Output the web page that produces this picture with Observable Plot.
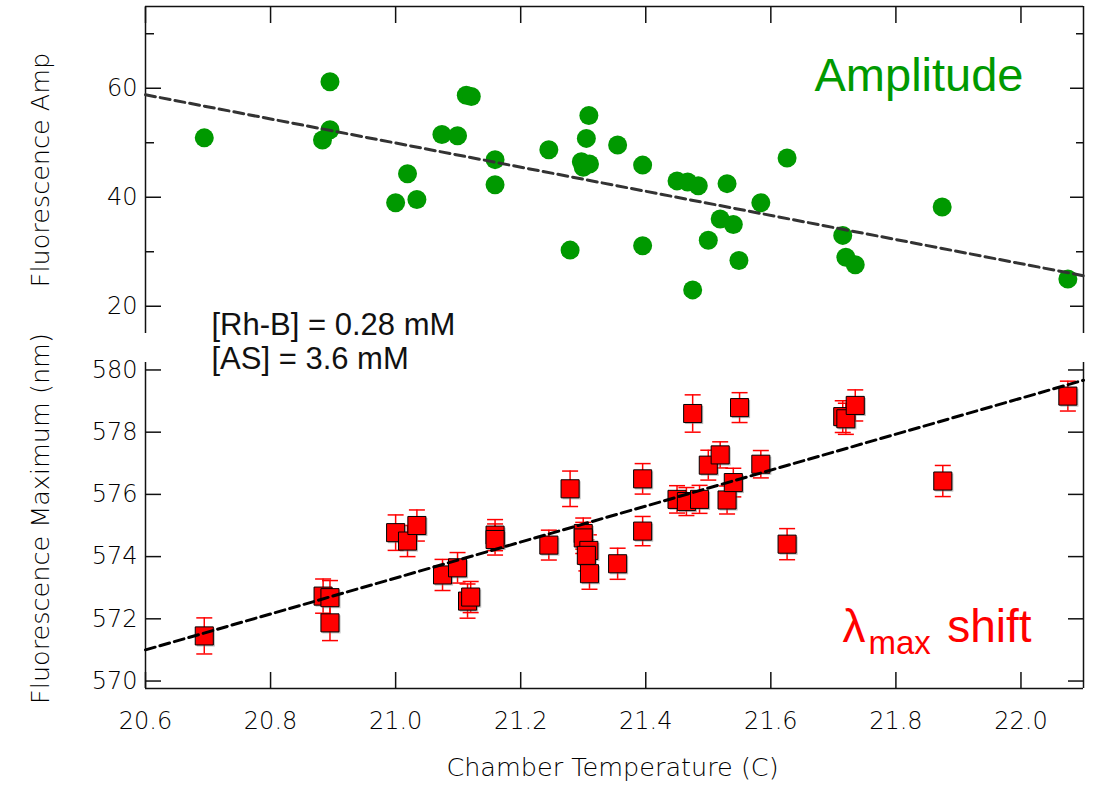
<!DOCTYPE html>
<html><head><meta charset="utf-8">
<script src="https://cdn.jsdelivr.net/npm/d3@7"></script>
<script src="https://cdn.jsdelivr.net/npm/@observablehq/plot@0.6"></script>
<style>body{margin:0;background:#fff}#chart svg{display:block}</style>
</head><body><div id="chart"></div>
<script>
// ---- data ----
const ampTemp = [20.694, 20.883, 20.895, 20.895, 21.000, 21.019, 21.034, 21.074, 21.099, 21.113, 21.121, 21.159, 21.159, 21.245, 21.279, 21.297, 21.300, 21.310, 21.305, 21.309, 21.355, 21.395, 21.395, 21.450, 21.467, 21.484, 21.475, 21.500, 21.519, 21.530, 21.540, 21.549, 21.584, 21.626, 21.715, 21.720, 21.735, 21.874, 22.075];
const amplitude = [50.9, 50.5, 52.4, 61.2, 39.0, 44.3, 39.6, 51.5, 51.3, 58.7, 58.5, 46.9, 42.3, 48.7, 30.3, 46.5, 45.5, 46.1, 50.8, 55.0, 49.6, 45.9, 31.1, 43.0, 42.8, 42.1, 23.0, 32.1, 36.0, 42.5, 35.0, 28.4, 39.0, 47.2, 33.0, 29.0, 27.6, 38.2, 25.0];

const lamTemp = [20.694, 20.884, 20.895, 20.895, 21.000, 21.019, 21.034, 21.075, 21.099, 21.115, 21.120, 21.159, 21.159, 21.245, 21.279, 21.300, 21.300, 21.309, 21.305, 21.310, 21.355, 21.395, 21.395, 21.450, 21.465, 21.475, 21.486, 21.500, 21.519, 21.530, 21.540, 21.550, 21.584, 21.626, 21.715, 21.720, 21.735, 21.875, 22.075];
const lambdaMax = [571.45, 572.73, 572.68, 571.87, 574.77, 574.50, 575.00, 573.41, 573.64, 572.57, 572.70, 574.69, 574.55, 574.37, 576.18, 574.74, 574.60, 574.20, 574.04, 573.45, 573.77, 576.50, 574.82, 575.84, 575.77, 578.60, 575.84, 576.94, 577.27, 575.82, 576.38, 578.79, 576.97, 574.40, 578.50, 578.43, 578.86, 576.43, 579.16];
const lambdaErr = [0.58, 0.55, 0.55, 0.57, 0.57, 0.50, 0.50, 0.50, 0.49, 0.55, 0.50, 0.50, 0.50, 0.48, 0.57, 0.50, 0.50, 0.50, 0.50, 0.50, 0.50, 0.49, 0.47, 0.44, 0.45, 0.60, 0.45, 0.48, 0.42, 0.45, 0.46, 0.48, 0.44, 0.50, 0.51, 0.50, 0.50, 0.50, 0.48];

const fitTemp = [20.6, 22.1];
const ampFit = [58.8, 25.6];
const lamFit = [571.0, 579.67];

const xTicks = [20.6, 20.8, 21.0, 21.2, 21.4, 21.6, 21.8, 22.0];
const ampMajorTicks = [20, 40, 60];
const ampMinorTicks = [30, 50, 70];
const lamTicks = [570, 572, 574, 576, 578, 580];

const xDomain = [20.6, 22.1];
const ampDomain = [15, 75];
const lamDomain = [569.76, 580.24];

// ---- tables ----
const ampData = ampTemp.map((t, i) => ({t, v: amplitude[i]}));
const lamData = lamTemp.map((t, i) => ({t, v: lambdaMax[i], e: lambdaErr[i]}));
const ampFitData = fitTemp.map((t, i) => ({t, v: ampFit[i]}));
const lamFitData = fitTemp.map((t, i) => ({t, v: lamFit[i]}));

// ---- styles ----
const W = 1097;
const axisFont = "DejaVu Sans";
const txtFont = "Liberation Sans, Arial, sans-serif";
const green = "#009900";
const red = "#ff0000";
const ink = "#111";
const labelInk = "#000";
const capSymbol = {draw(ctx, size) { const r = Math.sqrt(size / Math.PI); ctx.moveTo(-r, 0); ctx.lineTo(r, 0); }};
const svgStyle = {background: "transparent", overflow: "visible", fontFamily: axisFont, color: ink};

const topPlot = Plot.plot({
  width: W, height: 340,
  marginTop: 6, marginBottom: 7, marginLeft: 145, marginRight: 14,
  style: svgStyle,
  x: {domain: xDomain},
  y: {domain: ampDomain},
  marks: [
    Plot.ruleY([ampDomain[1]], {stroke: ink, strokeWidth: 1.5}),
    Plot.ruleX([xDomain[0]], {stroke: ink, strokeWidth: 1.5}),
    Plot.ruleX([xDomain[1]], {stroke: ink, strokeWidth: 1.5}),
    Plot.axisX(xTicks, {anchor: "top", tickSize: -16, tickFormat: () => "", label: null, strokeWidth: 1.5}),
    Plot.axisY(ampMajorTicks, {anchor: "left", tickSize: -16, tickFormat: () => "", label: null, strokeWidth: 1.5}),
    Plot.axisY(ampMinorTicks, {anchor: "left", tickSize: -9, tickFormat: () => "", label: null, strokeWidth: 1.5}),
    Plot.axisY(ampMajorTicks, {anchor: "right", tickSize: -14, tickFormat: () => "", label: null, strokeWidth: 1.5}),
    Plot.axisY(ampMinorTicks, {anchor: "right", tickSize: -8, tickFormat: () => "", label: null, strokeWidth: 1.5}),
    Plot.axisY(ampMajorTicks, {anchor: "left", tickSize: 0, tickPadding: 8, tickFormat: d3.format("d"), label: null, fontSize: 24, fontWeight: 300, fill: labelInk}),
    Plot.text(["Fluorescence Amp"], {frameAnchor: "left", textAnchor: "middle", dx: -105, dy: 0, rotate: -90, fontSize: 25.5, fontWeight: 300, fill: labelInk}),
    Plot.dot(ampData, {x: "t", y: "v", r: 9.5, fill: green, stroke: "none"}),
    Plot.line(ampFitData, {x: "t", y: "v", stroke: "#333", strokeWidth: 3, strokeDasharray: "10,5"}),
    Plot.text(["Amplitude"], {frameAnchor: "top-right", textAnchor: "end", lineAnchor: "bottom", dx: -60, dy: 84, fontSize: 47, fontFamily: txtFont, fill: green}),
    Plot.text(["[Rh-B] = 0.28 mM\n[AS] = 3.6 mM"], {frameAnchor: "bottom-left", textAnchor: "start", lineAnchor: "bottom", lineHeight: 1.077, dx: 66, dy: 35, fontSize: 31, fontFamily: txtFont, fill: "#111"})
  ]
});

const bottomPlot = Plot.plot({
  width: W, height: 453,
  marginTop: 22, marginBottom: 105, marginLeft: 145, marginRight: 14,
  style: svgStyle,
  x: {domain: xDomain},
  y: {domain: lamDomain},
  marks: [
    Plot.ruleY([lamDomain[0]], {stroke: ink, strokeWidth: 1.5}),
    Plot.ruleX([xDomain[0]], {stroke: ink, strokeWidth: 1.5}),
    Plot.ruleX([xDomain[1]], {stroke: ink, strokeWidth: 1.5}),
    Plot.axisX(xTicks, {anchor: "bottom", tickSize: -16, tickFormat: () => "", label: null, strokeWidth: 1.5}),
    Plot.axisX(xTicks, {anchor: "bottom", tickSize: 0, tickPadding: 23, tickFormat: d3.format(".1f"), label: null, fontSize: 24, fontWeight: 300, fill: labelInk}),
    Plot.axisY(lamTicks, {anchor: "left", tickSize: -16, tickFormat: () => "", label: null, strokeWidth: 1.5}),
    Plot.axisY(lamTicks, {anchor: "right", tickSize: -16, tickFormat: () => "", label: null, strokeWidth: 1.5}),
    Plot.axisY(lamTicks, {anchor: "left", tickSize: 0, tickPadding: 8, tickFormat: d3.format("d"), label: null, fontSize: 24, fontWeight: 300, fill: labelInk}),
    Plot.text(["Fluorescence Maximum (nm)"], {frameAnchor: "left", textAnchor: "middle", dx: -105, dy: -7, rotate: -90, fontSize: 25.5, fontWeight: 300, fill: labelInk}),
    Plot.text(["Chamber Temperature (C)"], {frameAnchor: "bottom", dx: -2, dy: 87, fontSize: 25.5, fontWeight: 300, fill: labelInk}),
    Plot.ruleX(lamData, {x: "t", y1: d => d.v - d.e, y2: d => d.v + d.e, stroke: red, strokeWidth: 1.5}),
    Plot.dot(lamData, {x: "t", y: d => d.v + d.e, r: 8, symbol: capSymbol, stroke: red, fill: "none", strokeWidth: 1.5}),
    Plot.dot(lamData, {x: "t", y: d => d.v - d.e, r: 8, symbol: capSymbol, stroke: red, fill: "none", strokeWidth: 1.5}),
    Plot.dot(lamData, {x: "t", y: "v", r: 10.2, symbol: "square", dx: 1.5, dy: 1.5, fill: "#777", fillOpacity: 0.5, stroke: "none"}),
    Plot.dot(lamData, {x: "t", y: "v", r: 10.2, symbol: "square", fill: red, stroke: "#000", strokeWidth: 1}),
    Plot.line(lamFitData, {x: "t", y: "v", stroke: "#000", strokeWidth: 3, strokeDasharray: "10,5"}),
    Plot.text(["λ"], {frameAnchor: "bottom-right", textAnchor: "start", lineAnchor: "bottom", dx: -241, dy: -47, fontSize: 46, fontFamily: txtFont, fill: red}),
    Plot.text(["max"], {frameAnchor: "bottom-right", textAnchor: "start", lineAnchor: "bottom", dx: -215, dy: -35, fontSize: 33, fontFamily: txtFont, fill: red}),
    Plot.text(["shift"], {frameAnchor: "bottom-right", textAnchor: "end", lineAnchor: "bottom", dx: -52, dy: -47, fontSize: 46, fontFamily: txtFont, fill: red})
  ]
});

document.getElementById("chart").append(topPlot, bottomPlot);
</script>
</body></html>
